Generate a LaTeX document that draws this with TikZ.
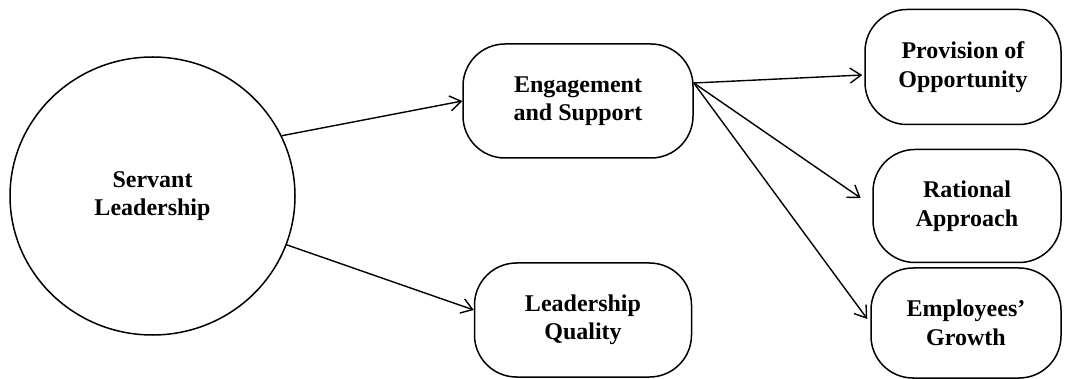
\documentclass[tikz,border=0pt]{standalone}
\usepackage{fontspec}
\setmainfont{Liberation Serif}
\usetikzlibrary{positioning,shapes.geometric,arrows.meta}
\tikzstyle{leader}=[draw, ellipse, line width=1.5pt, minimum width=285pt, minimum height=278pt, inner sep=0pt, align=center]
\tikzstyle{factor}=[draw, rounded corners=42pt, line width=1.5pt, inner sep=0pt, align=center, minimum height=114pt]
\tikzstyle{link}=[->, line width=1.4pt]
\def\labfont{\fontsize{24}{28.5}\selectfont\bfseries}

\begin{document}
\begin{tikzpicture}[x=1pt,y=-1pt,>={Straight Barb[length=11pt,width=15pt]},font=\labfont]
	\useasboundingbox (0,0) rectangle (1065,379);
	% Define the nodes in the picture
	\node (serv) [leader] at (152.5,196) {Servant\\Leadership};
	\node (eng) [factor, minimum width=230pt, right of=serv, node distance=425.5pt, yshift=95pt] {Engagement\\and Support};
	\node (lead) [factor, minimum width=217pt, right of=serv, node distance=430.5pt, yshift=-124pt] {Leadership\\Quality};
	\node (prov) [factor, minimum width=196pt, minimum height=115pt, right of=eng, node distance=385pt, yshift=34pt] {Provision of\\Opportunity};
	\node (rat) [factor, minimum width=188pt, minimum height=113pt, right of=eng, node distance=389pt, yshift=-105pt] {Rational\\Approach};
	\node (emp) [factor, minimum width=190pt, minimum height=110pt, right of=eng, node distance=388pt, yshift=-222pt] {Employees'\\Growth};
	\coordinate (fork) at ([yshift=18pt]eng.east);

	% Define the edges in the picture
	\draw [link] (serv.25) -- (eng.west);
	\draw [link] (serv.-20) -- ([yshift=10pt]lead.west);
	\draw [link] (fork) -- ([xshift=-2pt,yshift=-8pt]prov.west);
	\draw [link, shorten >=14pt] (fork) -- (rat.west);
	\draw [link, shorten >=5pt] (fork) -- (emp.west);
\end{tikzpicture}
\end{document}
